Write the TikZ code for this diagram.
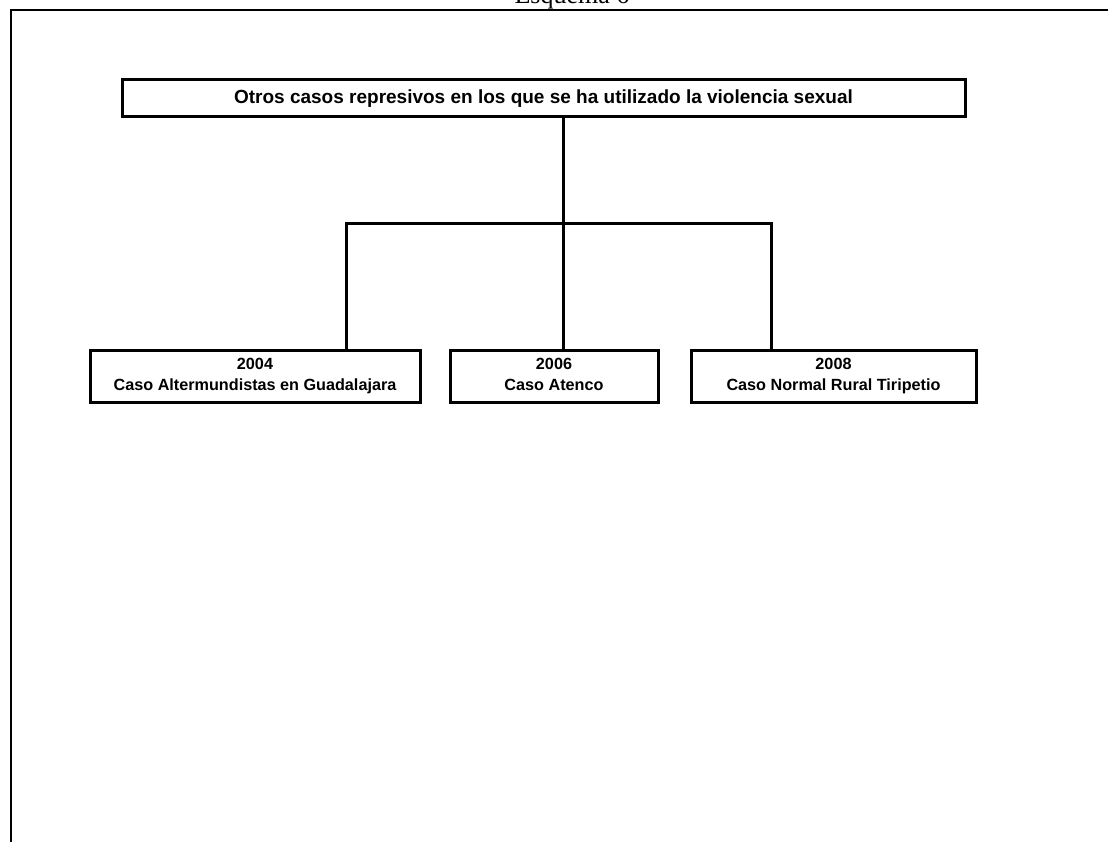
\documentclass[tikz,border=0pt]{standalone}
\usepackage{fontspec}
\setmainfont{Liberation Serif}
\newfontfamily\arialfont{Liberation Sans}
\usepackage{tikz}

\tikzset{
    titlebox/.style={draw, line width=3pt, inner sep=0pt, minimum width=843pt, minimum height=37pt,
        font=\arialfont\bfseries\fontsize{19}{22}\selectfont},
    casebox/.style={draw, line width=3pt, inner sep=0pt, minimum height=52pt, align=center,
        font=\arialfont\bfseries\fontsize{16.2}{20.5}\selectfont},
    branch/.style={line width=3pt}
}

\begin{document}
\begin{tikzpicture}[x=1pt,y=-1pt]
    \useasboundingbox (0,0) rectangle (1108,842);

    \node[anchor=base, font=\fontsize{26}{30}\selectfont] (esq) at (572,4) {Esquema 6};
    \draw[line width=2pt] (11,842) -- (11,10) -- (1110,10);

    \node[titlebox] (main) at (543.5,98.5) {Otros casos represivos en los que se ha utilizado la violencia sexual};

    \node[casebox, minimum width=330pt] (c2004) at (255,376) {\strut 2004\\\strut Caso Altermundistas en Guadalajara};
    \node[casebox, minimum width=208pt] (c2006) at (554,376) {\strut 2006\\\strut Caso Atenco};
    \node[casebox, minimum width=285pt] (c2008) at (833.5,376) {\strut 2008\\\strut Caso Normal Rural Tiripetio};

    \coordinate (hub) at (563,224);
    \coordinate (left) at (346,224);
    \coordinate (right) at (771,224);

    \draw[branch] (main.south -| hub) -- (c2006.north -| hub);
    \draw[branch] (c2004.north -| left) -- (left) -- (right) -- (c2008.north -| right);
\end{tikzpicture}
\end{document}
